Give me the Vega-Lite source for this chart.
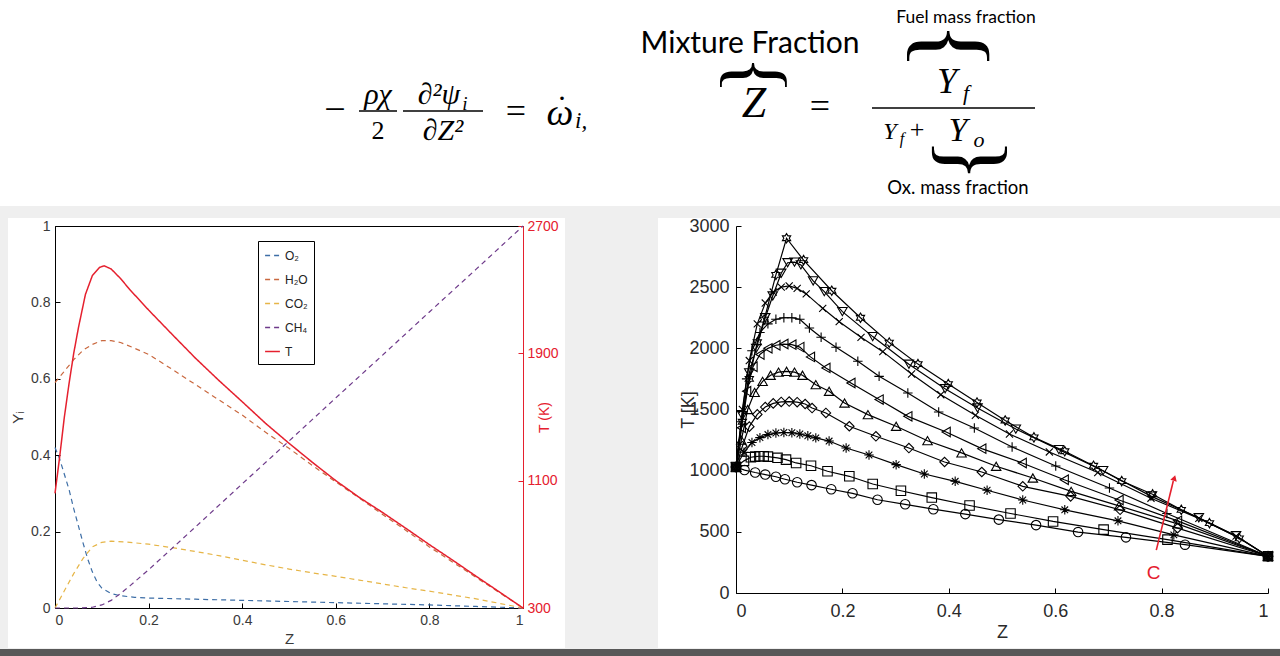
{
  "$schema": "https://vega.github.io/schema/vega-lite/v6.json",
  "background": "#efefef",
  "padding": {"left": 0, "top": 0, "right": 0, "bottom": 0},
  "config": {"view": {"stroke": null}, "font": "Liberation Sans"},
  "bounds": "flush",
  "spacing": 26,
  "datasets": {
    "left": [
      {"s":"O₂","Z":0,"v":0.42},{"s":"O₂","Z":0.01,"v":0.39},{"s":"O₂","Z":0.02,"v":0.35},{"s":"O₂","Z":0.03,"v":0.31},{"s":"O₂","Z":0.04,"v":0.26},{"s":"O₂","Z":0.05,"v":0.215},{"s":"O₂","Z":0.06,"v":0.17},{"s":"O₂","Z":0.07,"v":0.128},{"s":"O₂","Z":0.08,"v":0.094},{"s":"O₂","Z":0.09,"v":0.068},{"s":"O₂","Z":0.1,"v":0.052},{"s":"O₂","Z":0.12,"v":0.038},{"s":"O₂","Z":0.14,"v":0.032},{"s":"O₂","Z":0.17,"v":0.028},{"s":"O₂","Z":0.2,"v":0.026},{"s":"O₂","Z":0.3,"v":0.023},{"s":"O₂","Z":0.4,"v":0.02},{"s":"O₂","Z":0.5,"v":0.017},{"s":"O₂","Z":0.6,"v":0.014},{"s":"O₂","Z":0.7,"v":0.011},{"s":"O₂","Z":0.8,"v":0.008},{"s":"O₂","Z":0.9,"v":0.004},{"s":"O₂","Z":1,"v":0},
      {"s":"H₂O","Z":0,"v":0.59},{"s":"H₂O","Z":0.02,"v":0.62},{"s":"H₂O","Z":0.04,"v":0.65},{"s":"H₂O","Z":0.06,"v":0.675},{"s":"H₂O","Z":0.08,"v":0.69},{"s":"H₂O","Z":0.1,"v":0.7},{"s":"H₂O","Z":0.12,"v":0.7},{"s":"H₂O","Z":0.14,"v":0.695},{"s":"H₂O","Z":0.17,"v":0.68},{"s":"H₂O","Z":0.2,"v":0.664},{"s":"H₂O","Z":0.25,"v":0.625},{"s":"H₂O","Z":0.3,"v":0.585},{"s":"H₂O","Z":0.35,"v":0.545},{"s":"H₂O","Z":0.4,"v":0.505},{"s":"H₂O","Z":0.45,"v":0.46},{"s":"H₂O","Z":0.5,"v":0.418},{"s":"H₂O","Z":0.55,"v":0.373},{"s":"H₂O","Z":0.6,"v":0.33},{"s":"H₂O","Z":0.65,"v":0.288},{"s":"H₂O","Z":0.7,"v":0.245},{"s":"H₂O","Z":0.75,"v":0.203},{"s":"H₂O","Z":0.8,"v":0.16},{"s":"H₂O","Z":0.85,"v":0.12},{"s":"H₂O","Z":0.9,"v":0.08},{"s":"H₂O","Z":0.95,"v":0.04},{"s":"H₂O","Z":1,"v":0},
      {"s":"CO₂","Z":0,"v":0},{"s":"CO₂","Z":0.02,"v":0.045},{"s":"CO₂","Z":0.04,"v":0.09},{"s":"CO₂","Z":0.06,"v":0.13},{"s":"CO₂","Z":0.08,"v":0.16},{"s":"CO₂","Z":0.1,"v":0.172},{"s":"CO₂","Z":0.12,"v":0.175},{"s":"CO₂","Z":0.15,"v":0.173},{"s":"CO₂","Z":0.2,"v":0.167},{"s":"CO₂","Z":0.25,"v":0.158},{"s":"CO₂","Z":0.3,"v":0.148},{"s":"CO₂","Z":0.35,"v":0.137},{"s":"CO₂","Z":0.4,"v":0.125},{"s":"CO₂","Z":0.45,"v":0.113},{"s":"CO₂","Z":0.5,"v":0.102},{"s":"CO₂","Z":0.55,"v":0.092},{"s":"CO₂","Z":0.6,"v":0.083},{"s":"CO₂","Z":0.65,"v":0.073},{"s":"CO₂","Z":0.7,"v":0.063},{"s":"CO₂","Z":0.75,"v":0.053},{"s":"CO₂","Z":0.8,"v":0.044},{"s":"CO₂","Z":0.85,"v":0.034},{"s":"CO₂","Z":0.9,"v":0.024},{"s":"CO₂","Z":0.95,"v":0.012},{"s":"CO₂","Z":1,"v":0},
      {"s":"CH₄","Z":0,"v":0},{"s":"CH₄","Z":0.05,"v":0},{"s":"CH₄","Z":0.08,"v":0.002},{"s":"CH₄","Z":0.1,"v":0.008},{"s":"CH₄","Z":0.12,"v":0.02},{"s":"CH₄","Z":0.14,"v":0.038},{"s":"CH₄","Z":0.16,"v":0.058},{"s":"CH₄","Z":0.2,"v":0.1},{"s":"CH₄","Z":0.3,"v":0.212},{"s":"CH₄","Z":0.4,"v":0.325},{"s":"CH₄","Z":0.5,"v":0.437},{"s":"CH₄","Z":0.6,"v":0.55},{"s":"CH₄","Z":0.7,"v":0.662},{"s":"CH₄","Z":0.8,"v":0.775},{"s":"CH₄","Z":0.9,"v":0.887},{"s":"CH₄","Z":1,"v":1},
      {"s":"T","Z":0,"v":1020},{"s":"T","Z":0.01,"v":1250},{"s":"T","Z":0.02,"v":1500},{"s":"T","Z":0.03,"v":1710},{"s":"T","Z":0.04,"v":1900},{"s":"T","Z":0.05,"v":2060},{"s":"T","Z":0.065,"v":2270},{"s":"T","Z":0.08,"v":2390},{"s":"T","Z":0.095,"v":2440},{"s":"T","Z":0.105,"v":2450},{"s":"T","Z":0.12,"v":2430},{"s":"T","Z":0.14,"v":2370},{"s":"T","Z":0.16,"v":2300},{"s":"T","Z":0.2,"v":2172},{"s":"T","Z":0.25,"v":2020},{"s":"T","Z":0.3,"v":1870},{"s":"T","Z":0.35,"v":1730},{"s":"T","Z":0.4,"v":1596},{"s":"T","Z":0.45,"v":1460},{"s":"T","Z":0.5,"v":1335},{"s":"T","Z":0.55,"v":1215},{"s":"T","Z":0.6,"v":1100},{"s":"T","Z":0.65,"v":995},{"s":"T","Z":0.7,"v":900},{"s":"T","Z":0.75,"v":800},{"s":"T","Z":0.8,"v":698},{"s":"T","Z":0.85,"v":600},{"s":"T","Z":0.9,"v":499},{"s":"T","Z":0.95,"v":400},{"s":"T","Z":1,"v":300}
    ],
    "flame": [
      {"c":"C1","Z":0,"T":1030},{"c":"C1","Z":0.016,"T":1005},{"c":"C1","Z":0.036,"T":985},{"c":"C1","Z":0.055,"T":968},{"c":"C1","Z":0.075,"T":950},{"c":"C1","Z":0.092,"T":930},{"c":"C1","Z":0.115,"T":905},{"c":"C1","Z":0.142,"T":882},{"c":"C1","Z":0.179,"T":848},{"c":"C1","Z":0.219,"T":815},{"c":"C1","Z":0.266,"T":762},{"c":"C1","Z":0.318,"T":725},{"c":"C1","Z":0.371,"T":685},{"c":"C1","Z":0.431,"T":645},{"c":"C1","Z":0.494,"T":600},{"c":"C1","Z":0.564,"T":555},{"c":"C1","Z":0.643,"T":498},{"c":"C1","Z":0.733,"T":455},{"c":"C1","Z":0.844,"T":395},{"c":"C1","Z":1,"T":300},
      {"c":"C2","Z":0,"T":1030},{"c":"C2","Z":0.015,"T":1080},{"c":"C2","Z":0.028,"T":1110},{"c":"C2","Z":0.036,"T":1115},{"c":"C2","Z":0.044,"T":1118},{"c":"C2","Z":0.052,"T":1118},{"c":"C2","Z":0.06,"T":1115},{"c":"C2","Z":0.078,"T":1105},{"c":"C2","Z":0.094,"T":1090},{"c":"C2","Z":0.113,"T":1063},{"c":"C2","Z":0.141,"T":1040},{"c":"C2","Z":0.172,"T":995},{"c":"C2","Z":0.213,"T":954},{"c":"C2","Z":0.257,"T":891},{"c":"C2","Z":0.31,"T":836},{"c":"C2","Z":0.368,"T":780},{"c":"C2","Z":0.439,"T":715},{"c":"C2","Z":0.516,"T":650},{"c":"C2","Z":0.596,"T":585},{"c":"C2","Z":0.691,"T":518},{"c":"C2","Z":0.811,"T":436},{"c":"C2","Z":1,"T":300},
      {"c":"C3","Z":0,"T":1030},{"c":"C3","Z":0.015,"T":1150},{"c":"C3","Z":0.03,"T":1230},{"c":"C3","Z":0.045,"T":1270},{"c":"C3","Z":0.06,"T":1295},{"c":"C3","Z":0.075,"T":1308},{"c":"C3","Z":0.09,"T":1312},{"c":"C3","Z":0.105,"T":1310},{"c":"C3","Z":0.12,"T":1300},{"c":"C3","Z":0.135,"T":1285},{"c":"C3","Z":0.15,"T":1268},{"c":"C3","Z":0.175,"T":1242},{"c":"C3","Z":0.207,"T":1185},{"c":"C3","Z":0.25,"T":1128},{"c":"C3","Z":0.301,"T":1049},{"c":"C3","Z":0.354,"T":973},{"c":"C3","Z":0.412,"T":913},{"c":"C3","Z":0.472,"T":840},{"c":"C3","Z":0.539,"T":760},{"c":"C3","Z":0.618,"T":680},{"c":"C3","Z":0.718,"T":590},{"c":"C3","Z":0.823,"T":475},{"c":"C3","Z":1,"T":300},
      {"c":"C4","Z":0,"T":1030},{"c":"C4","Z":0.012,"T":1200},{"c":"C4","Z":0.025,"T":1360},{"c":"C4","Z":0.04,"T":1460},{"c":"C4","Z":0.055,"T":1520},{"c":"C4","Z":0.07,"T":1550},{"c":"C4","Z":0.085,"T":1562},{"c":"C4","Z":0.1,"T":1565},{"c":"C4","Z":0.115,"T":1560},{"c":"C4","Z":0.13,"T":1545},{"c":"C4","Z":0.143,"T":1512},{"c":"C4","Z":0.169,"T":1472},{"c":"C4","Z":0.213,"T":1363},{"c":"C4","Z":0.263,"T":1281},{"c":"C4","Z":0.325,"T":1185},{"c":"C4","Z":0.392,"T":1071},{"c":"C4","Z":0.462,"T":989},{"c":"C4","Z":0.539,"T":872},{"c":"C4","Z":0.629,"T":790},{"c":"C4","Z":0.722,"T":680},{"c":"C4","Z":0.83,"T":530},{"c":"C4","Z":1,"T":300},
      {"c":"C5","Z":0,"T":1030},{"c":"C5","Z":0.01,"T":1250},{"c":"C5","Z":0.022,"T":1500},{"c":"C5","Z":0.035,"T":1640},{"c":"C5","Z":0.05,"T":1730},{"c":"C5","Z":0.065,"T":1780},{"c":"C5","Z":0.08,"T":1805},{"c":"C5","Z":0.095,"T":1812},{"c":"C5","Z":0.11,"T":1805},{"c":"C5","Z":0.125,"T":1780},{"c":"C5","Z":0.15,"T":1703},{"c":"C5","Z":0.175,"T":1649},{"c":"C5","Z":0.204,"T":1553},{"c":"C5","Z":0.248,"T":1458},{"c":"C5","Z":0.301,"T":1363},{"c":"C5","Z":0.36,"T":1245},{"c":"C5","Z":0.424,"T":1145},{"c":"C5","Z":0.489,"T":1036},{"c":"C5","Z":0.558,"T":940},{"c":"C5","Z":0.63,"T":831},{"c":"C5","Z":0.72,"T":712},{"c":"C5","Z":0.83,"T":565},{"c":"C5","Z":1,"T":300},
      {"c":"C6","Z":0,"T":1030},{"c":"C6","Z":0.01,"T":1350},{"c":"C6","Z":0.02,"T":1650},{"c":"C6","Z":0.032,"T":1850},{"c":"C6","Z":0.045,"T":1950},{"c":"C6","Z":0.06,"T":2000},{"c":"C6","Z":0.075,"T":2025},{"c":"C6","Z":0.09,"T":2035},{"c":"C6","Z":0.105,"T":2030},{"c":"C6","Z":0.12,"T":2010},{"c":"C6","Z":0.14,"T":1930},{"c":"C6","Z":0.169,"T":1840},{"c":"C6","Z":0.216,"T":1717},{"c":"C6","Z":0.269,"T":1581},{"c":"C6","Z":0.323,"T":1444},{"c":"C6","Z":0.395,"T":1316},{"c":"C6","Z":0.462,"T":1180},{"c":"C6","Z":0.538,"T":1063},{"c":"C6","Z":0.617,"T":926},{"c":"C6","Z":0.72,"T":760},{"c":"C6","Z":0.83,"T":590},{"c":"C6","Z":1,"T":300},
      {"c":"C7","Z":0,"T":1030},{"c":"C7","Z":0.01,"T":1400},{"c":"C7","Z":0.02,"T":1750},{"c":"C7","Z":0.03,"T":1980},{"c":"C7","Z":0.045,"T":2130},{"c":"C7","Z":0.06,"T":2200},{"c":"C7","Z":0.075,"T":2238},{"c":"C7","Z":0.09,"T":2250},{"c":"C7","Z":0.105,"T":2250},{"c":"C7","Z":0.12,"T":2238},{"c":"C7","Z":0.138,"T":2166},{"c":"C7","Z":0.16,"T":2090},{"c":"C7","Z":0.188,"T":2009},{"c":"C7","Z":0.229,"T":1894},{"c":"C7","Z":0.269,"T":1771},{"c":"C7","Z":0.323,"T":1635},{"c":"C7","Z":0.381,"T":1480},{"c":"C7","Z":0.448,"T":1349},{"c":"C7","Z":0.519,"T":1194},{"c":"C7","Z":0.601,"T":1038},{"c":"C7","Z":0.702,"T":858},{"c":"C7","Z":0.81,"T":650},{"c":"C7","Z":1,"T":300},
      {"c":"C8","Z":0,"T":1030},{"c":"C8","Z":0.012,"T":1500},{"c":"C8","Z":0.025,"T":1900},{"c":"C8","Z":0.04,"T":2200},{"c":"C8","Z":0.055,"T":2370},{"c":"C8","Z":0.07,"T":2460},{"c":"C8","Z":0.085,"T":2500},{"c":"C8","Z":0.1,"T":2510},{"c":"C8","Z":0.115,"T":2490},{"c":"C8","Z":0.132,"T":2445},{"c":"C8","Z":0.163,"T":2327},{"c":"C8","Z":0.194,"T":2218},{"c":"C8","Z":0.235,"T":2090},{"c":"C8","Z":0.276,"T":1973},{"c":"C8","Z":0.33,"T":1790},{"c":"C8","Z":0.385,"T":1621},{"c":"C8","Z":0.45,"T":1453},{"c":"C8","Z":0.514,"T":1300},{"c":"C8","Z":0.589,"T":1153},{"c":"C8","Z":0.68,"T":985},{"c":"C8","Z":0.78,"T":775},{"c":"C8","Z":0.87,"T":610},{"c":"C8","Z":0.94,"T":465},{"c":"C8","Z":1,"T":300},
      {"c":"C9","Z":0,"T":1030},{"c":"C9","Z":0.012,"T":1450},{"c":"C9","Z":0.025,"T":1800},{"c":"C9","Z":0.038,"T":2000},{"c":"C9","Z":0.055,"T":2250},{"c":"C9","Z":0.069,"T":2428},{"c":"C9","Z":0.085,"T":2614},{"c":"C9","Z":0.097,"T":2700},{"c":"C9","Z":0.11,"T":2705},{"c":"C9","Z":0.122,"T":2682},{"c":"C9","Z":0.145,"T":2551},{"c":"C9","Z":0.166,"T":2464},{"c":"C9","Z":0.2,"T":2300},{"c":"C9","Z":0.257,"T":2096},{"c":"C9","Z":0.325,"T":1870},{"c":"C9","Z":0.393,"T":1670},{"c":"C9","Z":0.454,"T":1513},{"c":"C9","Z":0.526,"T":1340},{"c":"C9","Z":0.607,"T":1172},{"c":"C9","Z":0.69,"T":1000},{"c":"C9","Z":0.78,"T":792},{"c":"C9","Z":0.87,"T":615},{"c":"C9","Z":0.94,"T":468},{"c":"C9","Z":1,"T":300},
      {"c":"C10","Z":0,"T":1030},{"c":"C10","Z":0.012,"T":1400},{"c":"C10","Z":0.025,"T":1750},{"c":"C10","Z":0.04,"T":2050},{"c":"C10","Z":0.053,"T":2235},{"c":"C10","Z":0.075,"T":2600},{"c":"C10","Z":0.095,"T":2900},{"c":"C10","Z":0.127,"T":2721},{"c":"C10","Z":0.18,"T":2471},{"c":"C10","Z":0.234,"T":2250},{"c":"C10","Z":0.288,"T":2047},{"c":"C10","Z":0.342,"T":1871},{"c":"C10","Z":0.399,"T":1708},{"c":"C10","Z":0.453,"T":1557},{"c":"C10","Z":0.506,"T":1410},{"c":"C10","Z":0.56,"T":1272},{"c":"C10","Z":0.618,"T":1159},{"c":"C10","Z":0.672,"T":1040},{"c":"C10","Z":0.725,"T":915},{"c":"C10","Z":0.783,"T":807},{"c":"C10","Z":0.837,"T":680},{"c":"C10","Z":0.89,"T":571},{"c":"C10","Z":0.946,"T":447},{"c":"C10","Z":1,"T":300}
    ]
  },
  "vconcat": [
    {
      "width": 1200,
      "height": 200,
      "data": {"values": [{}]},
      "layer": [
        {"mark": {"type": "rect", "color": "white"},
         "encoding": {"x": {"datum": -55, "type": "quantitative", "scale": {"domain": [0, 1200]}, "axis": null}, "x2": {"datum": 1225}, "y": {"datum": 0, "type": "quantitative", "scale": {"domain": [0, 200], "reverse": true}, "axis": null}, "y2": {"datum": 206}}},
        {"mark": {"type": "rect", "color": "white"},
         "encoding": {"x": {"datum": -47, "type": "quantitative", "scale": {"domain": [0, 1200]}, "axis": null}, "x2": {"datum": 510}, "y": {"datum": 218, "type": "quantitative", "scale": {"domain": [0, 200], "reverse": true}, "axis": null}, "y2": {"datum": 648}}},
        {"mark": {"type": "rect", "color": "white"},
         "encoding": {"x": {"datum": 603, "type": "quantitative", "scale": {"domain": [0, 1200]}, "axis": null}, "x2": {"datum": 1225}, "y": {"datum": 218, "type": "quantitative", "scale": {"domain": [0, 200], "reverse": true}, "axis": null}, "y2": {"datum": 648}}},
        {"mark": {"type": "rect", "color": "#585858"},
         "encoding": {"x": {"datum": -55, "type": "quantitative", "scale": {"domain": [0, 1200]}, "axis": null}, "x2": {"datum": 1225}, "y": {"datum": 649, "type": "quantitative", "scale": {"domain": [0, 200], "reverse": true}, "axis": null}, "y2": {"datum": 656}}},
        {"mark": {"type": "text", "text": "−", "font": "Liberation Serif", "fontSize": 38, "align": "center", "baseline": "middle"},
         "encoding": {"x": {"datum": 280, "type": "quantitative", "scale": {"domain": [0, 1200]}, "axis": null}, "y": {"datum": 111, "type": "quantitative", "scale": {"domain": [0, 200], "reverse": true}, "axis": null}}},
        {"mark": {"type": "text", "text": "ρχ", "font": "Liberation Serif", "fontStyle": "italic", "fontSize": 30, "align": "center", "baseline": "middle"},
         "encoding": {"x": {"datum": 323, "type": "quantitative", "scale": {"domain": [0, 1200]}, "axis": null}, "y": {"datum": 95, "type": "quantitative", "scale": {"domain": [0, 200], "reverse": true}, "axis": null}}},
        {"mark": {"type": "rule", "color": "black", "strokeWidth": 1.3},
         "encoding": {"x": {"datum": 304, "type": "quantitative", "scale": {"domain": [0, 1200]}, "axis": null}, "x2": {"datum": 342}, "y": {"datum": 111, "type": "quantitative", "scale": {"domain": [0, 200], "reverse": true}, "axis": null}}},
        {"mark": {"type": "text", "text": "2", "font": "Liberation Serif", "fontSize": 26, "align": "center", "baseline": "middle"},
         "encoding": {"x": {"datum": 323, "type": "quantitative", "scale": {"domain": [0, 1200]}, "axis": null}, "y": {"datum": 131, "type": "quantitative", "scale": {"domain": [0, 200], "reverse": true}, "axis": null}}},
        {"mark": {"type": "text", "text": "∂²ψ", "font": "Liberation Serif", "fontStyle": "italic", "fontSize": 30, "align": "center", "baseline": "middle"},
         "encoding": {"x": {"datum": 384, "type": "quantitative", "scale": {"domain": [0, 1200]}, "axis": null}, "y": {"datum": 95, "type": "quantitative", "scale": {"domain": [0, 200], "reverse": true}, "axis": null}}},
        {"mark": {"type": "text", "text": "i", "font": "Liberation Serif", "fontStyle": "italic", "fontSize": 19, "align": "center", "baseline": "middle"},
         "encoding": {"x": {"datum": 410, "type": "quantitative", "scale": {"domain": [0, 1200]}, "axis": null}, "y": {"datum": 104, "type": "quantitative", "scale": {"domain": [0, 200], "reverse": true}, "axis": null}}},
        {"mark": {"type": "rule", "color": "black", "strokeWidth": 1.3},
         "encoding": {"x": {"datum": 348, "type": "quantitative", "scale": {"domain": [0, 1200]}, "axis": null}, "x2": {"datum": 428}, "y": {"datum": 111, "type": "quantitative", "scale": {"domain": [0, 200], "reverse": true}, "axis": null}}},
        {"mark": {"type": "text", "text": "∂Z²", "font": "Liberation Serif", "fontStyle": "italic", "fontSize": 30, "align": "center", "baseline": "middle"},
         "encoding": {"x": {"datum": 388, "type": "quantitative", "scale": {"domain": [0, 1200]}, "axis": null}, "y": {"datum": 131, "type": "quantitative", "scale": {"domain": [0, 200], "reverse": true}, "axis": null}}},
        {"mark": {"type": "text", "text": "=", "font": "Liberation Serif", "fontSize": 36, "align": "center", "baseline": "middle"},
         "encoding": {"x": {"datum": 461, "type": "quantitative", "scale": {"domain": [0, 1200]}, "axis": null}, "y": {"datum": 112, "type": "quantitative", "scale": {"domain": [0, 200], "reverse": true}, "axis": null}}},
        {"mark": {"type": "text", "text": "ω", "font": "Liberation Serif", "fontStyle": "italic", "fontSize": 38, "align": "center", "baseline": "middle"},
         "encoding": {"x": {"datum": 505, "type": "quantitative", "scale": {"domain": [0, 1200]}, "axis": null}, "y": {"datum": 114, "type": "quantitative", "scale": {"domain": [0, 200], "reverse": true}, "axis": null}}},
        {"mark": {"type": "text", "text": ".", "font": "Liberation Serif", "fontSize": 30, "align": "center", "baseline": "alphabetic"},
         "encoding": {"x": {"datum": 507, "type": "quantitative", "scale": {"domain": [0, 1200]}, "axis": null}, "y": {"datum": 100, "type": "quantitative", "scale": {"domain": [0, 200], "reverse": true}, "axis": null}}},
        {"mark": {"type": "text", "text": "i,", "font": "Liberation Serif", "fontStyle": "italic", "fontSize": 23, "align": "left", "baseline": "middle"},
         "encoding": {"x": {"datum": 520, "type": "quantitative", "scale": {"domain": [0, 1200]}, "axis": null}, "y": {"datum": 121, "type": "quantitative", "scale": {"domain": [0, 200], "reverse": true}, "axis": null}}},
        {"mark": {"type": "text", "text": "Mixture Fraction", "font": "Lato", "fontSize": 30, "align": "center", "baseline": "middle"},
         "encoding": {"x": {"datum": 695, "type": "quantitative", "scale": {"domain": [0, 1200]}, "axis": null}, "y": {"datum": 44, "type": "quantitative", "scale": {"domain": [0, 200], "reverse": true}, "axis": null}}},
        {"mark": {"type": "text", "text": "{", "font": "Liberation Serif", "fontSize": 80, "angle": 90, "align": "center", "baseline": "middle"},
         "encoding": {"x": {"datum": 700, "type": "quantitative", "scale": {"domain": [0, 1200]}, "axis": null}, "y": {"datum": 75, "type": "quantitative", "scale": {"domain": [0, 200], "reverse": true}, "axis": null}}},
        {"mark": {"type": "text", "text": "Z", "font": "Liberation Serif", "fontStyle": "italic", "fontSize": 44, "align": "center", "baseline": "middle"},
         "encoding": {"x": {"datum": 699, "type": "quantitative", "scale": {"domain": [0, 1200]}, "axis": null}, "y": {"datum": 104, "type": "quantitative", "scale": {"domain": [0, 200], "reverse": true}, "axis": null}}},
        {"mark": {"type": "text", "text": "=", "font": "Liberation Serif", "fontSize": 36, "align": "center", "baseline": "middle"},
         "encoding": {"x": {"datum": 765, "type": "quantitative", "scale": {"domain": [0, 1200]}, "axis": null}, "y": {"datum": 107, "type": "quantitative", "scale": {"domain": [0, 200], "reverse": true}, "axis": null}}},
        {"mark": {"type": "text", "text": "Fuel mass fraction", "font": "Lato", "fontSize": 17.5, "align": "center", "baseline": "middle"},
         "encoding": {"x": {"datum": 911, "type": "quantitative", "scale": {"domain": [0, 1200]}, "axis": null}, "y": {"datum": 18, "type": "quantitative", "scale": {"domain": [0, 200], "reverse": true}, "axis": null}}},
        {"mark": {"type": "text", "text": "{", "font": "Liberation Serif", "fontSize": 100, "angle": 90, "align": "center", "baseline": "middle"},
         "encoding": {"x": {"datum": 895, "type": "quantitative", "scale": {"domain": [0, 1200]}, "axis": null}, "y": {"datum": 46, "type": "quantitative", "scale": {"domain": [0, 200], "reverse": true}, "axis": null}}},
        {"mark": {"type": "text", "text": "Y", "font": "Liberation Serif", "fontStyle": "italic", "fontSize": 36, "align": "center", "baseline": "middle"},
         "encoding": {"x": {"datum": 892, "type": "quantitative", "scale": {"domain": [0, 1200]}, "axis": null}, "y": {"datum": 82, "type": "quantitative", "scale": {"domain": [0, 200], "reverse": true}, "axis": null}}},
        {"mark": {"type": "text", "text": "f", "font": "Liberation Serif", "fontStyle": "italic", "fontSize": 22, "align": "center", "baseline": "middle"},
         "encoding": {"x": {"datum": 911, "type": "quantitative", "scale": {"domain": [0, 1200]}, "axis": null}, "y": {"datum": 93, "type": "quantitative", "scale": {"domain": [0, 200], "reverse": true}, "axis": null}}},
        {"mark": {"type": "rule", "color": "black", "strokeWidth": 1.3},
         "encoding": {"x": {"datum": 817, "type": "quantitative", "scale": {"domain": [0, 1200]}, "axis": null}, "x2": {"datum": 980}, "y": {"datum": 108, "type": "quantitative", "scale": {"domain": [0, 200], "reverse": true}, "axis": null}}},
        {"mark": {"type": "text", "text": "Y", "font": "Liberation Serif", "fontStyle": "italic", "fontSize": 24, "align": "center", "baseline": "middle"},
         "encoding": {"x": {"datum": 835, "type": "quantitative", "scale": {"domain": [0, 1200]}, "axis": null}, "y": {"datum": 132, "type": "quantitative", "scale": {"domain": [0, 200], "reverse": true}, "axis": null}}},
        {"mark": {"type": "text", "text": "f", "font": "Liberation Serif", "fontStyle": "italic", "fontSize": 16, "align": "center", "baseline": "middle"},
         "encoding": {"x": {"datum": 847, "type": "quantitative", "scale": {"domain": [0, 1200]}, "axis": null}, "y": {"datum": 139, "type": "quantitative", "scale": {"domain": [0, 200], "reverse": true}, "axis": null}}},
        {"mark": {"type": "text", "text": "+", "font": "Liberation Serif", "fontSize": 26, "align": "center", "baseline": "middle"},
         "encoding": {"x": {"datum": 862, "type": "quantitative", "scale": {"domain": [0, 1200]}, "axis": null}, "y": {"datum": 130, "type": "quantitative", "scale": {"domain": [0, 200], "reverse": true}, "axis": null}}},
        {"mark": {"type": "text", "text": "Y", "font": "Liberation Serif", "fontStyle": "italic", "fontSize": 34, "align": "center", "baseline": "middle"},
         "encoding": {"x": {"datum": 903, "type": "quantitative", "scale": {"domain": [0, 1200]}, "axis": null}, "y": {"datum": 131, "type": "quantitative", "scale": {"domain": [0, 200], "reverse": true}, "axis": null}}},
        {"mark": {"type": "text", "text": "o", "font": "Liberation Serif", "fontStyle": "italic", "fontSize": 22, "align": "center", "baseline": "middle"},
         "encoding": {"x": {"datum": 924, "type": "quantitative", "scale": {"domain": [0, 1200]}, "axis": null}, "y": {"datum": 140, "type": "quantitative", "scale": {"domain": [0, 200], "reverse": true}, "axis": null}}},
        {"mark": {"type": "text", "text": "{", "font": "Liberation Serif", "fontSize": 90, "angle": 270, "align": "center", "baseline": "middle"},
         "encoding": {"x": {"datum": 913, "type": "quantitative", "scale": {"domain": [0, 1200]}, "axis": null}, "y": {"datum": 160, "type": "quantitative", "scale": {"domain": [0, 200], "reverse": true}, "axis": null}}},
        {"mark": {"type": "text", "text": "Ox. mass fraction", "font": "Lato", "fontSize": 18.5, "align": "center", "baseline": "middle"},
         "encoding": {"x": {"datum": 903, "type": "quantitative", "scale": {"domain": [0, 1200]}, "axis": null}, "y": {"datum": 188, "type": "quantitative", "scale": {"domain": [0, 200], "reverse": true}, "axis": null}}}
      ]
    },
    {
      "bounds": "flush",
      "spacing": 213,
      "hconcat": [
        {
          "width": 468,
          "height": 382,
          "view": {"stroke": "black", "strokeWidth": 1},
          "data": {"name": "left"},
          "layer": [
            {
              "transform": [{"filter": "datum.s !== 'T'"}],
              "mark": {"type": "line", "strokeWidth": 1.2},
              "encoding": {
                "x": {"field": "Z", "type": "quantitative", "scale": {"domain": [0, 1]},
                      "axis": {"values": [0, 0.2, 0.4, 0.6, 0.8, 1], "format": "~g", "grid": false, "tickSize": -5, "labelPadding": 10, "labelFontSize": 14, "labelColor": "#3a3a3a", "domainColor": "black", "tickColor": "black", "title": "Z", "titleFontSize": 15, "titleFontWeight": "normal", "titleColor": "#3a3a3a", "titlePadding": 4}},
                "y": {"field": "v", "type": "quantitative", "scale": {"domain": [0, 1]},
                      "axis": {"values": [0, 0.2, 0.4, 0.6, 0.8, 1], "format": "~g", "grid": false, "tickSize": -5, "labelPadding": 10, "labelFontSize": 14, "labelColor": "#3a3a3a", "domainColor": "black", "tickColor": "black", "title": "Yᵢ", "titleFontSize": 15, "titleFontWeight": "normal", "titleColor": "#3a3a3a", "titlePadding": 5}},
                "color": {"field": "s", "type": "nominal", "scale": {"domain": ["O₂", "H₂O", "CO₂", "CH₄", "T"], "range": ["#3d6ea6", "#c9683f", "#e6b547", "#6e3a8a", "#e5202e"]},
                          "legend": {"title": null, "orient": "none", "legendX": 203, "legendY": 241, "symbolType": "stroke", "symbolSize": 220, "symbolStrokeWidth": 1.3, "labelFontSize": 12, "labelColor": "#222", "rowPadding": 9, "padding": 6, "strokeColor": "black", "fillColor": "white"}},
                "strokeDash": {"field": "s", "type": "nominal", "scale": {"domain": ["O₂", "H₂O", "CO₂", "CH₄", "T"], "range": [[5, 4], [5, 4], [5, 4], [5, 4], [1, 0]]},
                          "legend": {"title": null, "orient": "none", "legendX": 203, "legendY": 241, "symbolType": "stroke", "symbolSize": 220, "symbolStrokeWidth": 1.3, "labelFontSize": 12, "labelColor": "#222", "rowPadding": 9, "padding": 6, "strokeColor": "black", "fillColor": "white"}}
              }
            },
            {
              "transform": [{"filter": "datum.s === 'T'"}],
              "mark": {"type": "line", "strokeWidth": 1.5},
              "encoding": {
                "x": {"field": "Z", "type": "quantitative", "scale": {"domain": [0, 1]}},
                "y": {"field": "v", "type": "quantitative", "scale": {"domain": [300, 2700]},
                      "axis": {"orient": "right", "values": [300, 1100, 1900, 2700], "format": "d", "grid": false, "tickSize": -5, "labelPadding": 9, "labelFontSize": 14, "labelColor": "#e5202e", "domainColor": "#e5202e", "tickColor": "#e5202e", "title": "T (K)", "titleFontSize": 14, "titleFontWeight": "normal", "titleColor": "#e5202e", "titleAngle": 270, "titlePadding": -7}},
                "color": {"field": "s", "type": "nominal"},
                "strokeDash": {"field": "s", "type": "nominal"}
              }
            }
          ],
          "resolve": {"scale": {"y": "independent"}}
        },
        {
          "width": 532,
          "height": 367,
          "layer": [
            {
              "data": {"name": "flame"},
              "mark": {"type": "line", "color": "black", "strokeWidth": 1.2},
              "encoding": {
                "x": {"field": "Z", "type": "quantitative", "scale": {"domain": [0, 1]},
                      "axis": {"values": [0, 0.2, 0.4, 0.6, 0.8, 1], "format": "~g", "grid": false, "tickSize": -5, "labelPadding": 14, "labelFontSize": 18, "labelColor": "#2a2a2a", "domainColor": "black", "tickColor": "black", "title": "Z", "titleFontSize": 18, "titleFontWeight": "normal", "titleColor": "#2a2a2a", "titlePadding": 3}},
                "y": {"field": "T", "type": "quantitative", "scale": {"domain": [0, 3000]},
                      "axis": {"values": [0, 500, 1000, 1500, 2000, 2500, 3000], "format": "d", "grid": false, "tickSize": -5, "labelPadding": 12, "labelFontSize": 18, "labelColor": "#2a2a2a", "domainColor": "black", "tickColor": "black", "title": "T [K]", "titleFontSize": 18, "titleFontWeight": "normal", "titleColor": "#2a2a2a", "titlePadding": -9}},
                "detail": {"field": "c", "type": "nominal"}
              }
            },
            {
              "data": {"name": "flame"},
              "mark": {"type": "point", "filled": false, "color": "black", "strokeWidth": 1.1, "size": 90, "opacity": 1},
              "encoding": {
                "x": {"field": "Z", "type": "quantitative"},
                "y": {"field": "T", "type": "quantitative"},
                "shape": {"field": "c", "type": "nominal", "legend": null,
                          "scale": {"domain": ["C1", "C2", "C3", "C4", "C5", "C6", "C7", "C8", "C9", "C10"],
                                    "range": ["circle", "square", "M-1,0L1,0M0,-1L0,1M-0.7,-0.7L0.7,0.7M-0.7,0.7L0.7,-0.7", "diamond", "triangle-up", "triangle-left", "M-1,0L1,0M0,-1L0,1", "M-0.75,-0.75L0.75,0.75M-0.75,0.75L0.75,-0.75", "triangle-down", "M0,-1L0.29,-0.5L0.87,-0.5L0.58,0L0.87,0.5L0.29,0.5L0,1L-0.29,0.5L-0.87,0.5L-0.58,0L-0.87,-0.5L-0.29,-0.5Z"]}}
              }
            },
            {
              "data": {"values": [{}]},
              "mark": {"type": "rule", "color": "#e5202e", "strokeWidth": 1.6},
              "encoding": {"x": {"datum": 0.79, "type": "quantitative"}, "y": {"datum": 350, "type": "quantitative"}, "x2": {"datum": 0.822}, "y2": {"datum": 915}}
            },
            {
              "data": {"values": [{}]},
              "mark": {"type": "point", "shape": "triangle-up", "filled": true, "color": "#e5202e", "size": 45, "angle": 17, "opacity": 1},
              "encoding": {"x": {"datum": 0.824, "type": "quantitative"}, "y": {"datum": 940, "type": "quantitative"}}
            },
            {
              "data": {"values": [{}]},
              "mark": {"type": "text", "text": "C", "color": "#e5202e", "fontSize": 19, "align": "center", "baseline": "middle"},
              "encoding": {"x": {"datum": 0.785, "type": "quantitative"}, "y": {"datum": 160, "type": "quantitative"}}
            }
          ]
        }
      ]
    }
  ]
}
